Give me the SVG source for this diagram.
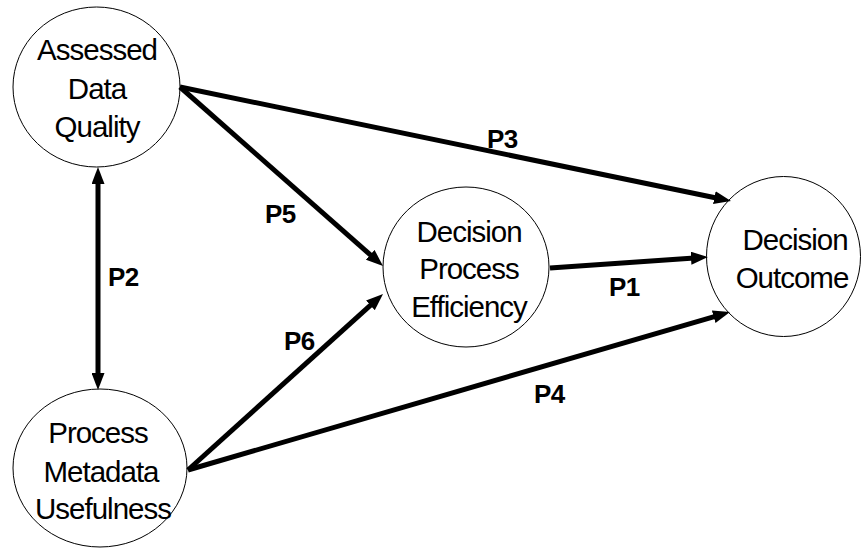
<svg xmlns="http://www.w3.org/2000/svg" width="862" height="548" viewBox="0 0 862 548">
<style>
.node{fill:#fff;stroke:#000;stroke-width:1}
.nt{font-family:"Liberation Sans",Arial,sans-serif;font-size:29.5px;fill:#000;text-anchor:middle;letter-spacing:-1px}
.edge{stroke:#000;stroke-width:5;fill:none}
.lbl{font-family:"Liberation Sans",Arial,sans-serif;font-size:26px;font-weight:bold;fill:#000;letter-spacing:-0.5px}
</style>
<defs>
<marker id="ah" markerUnits="userSpaceOnUse" markerWidth="17" markerHeight="13" refX="7" refY="6.5" orient="auto-start-reverse" viewBox="0 0 17 13">
<path d="M0,0 L17,6.5 L0,13 z" fill="#000"/>
</marker>
</defs>
<rect width="862" height="548" fill="#fff"/>
<g id="n-adq">
<ellipse class="node" cx="96.5" cy="87" rx="83.5" ry="80"/>
<text class="nt" x="97" y="60">Assessed</text>
<text class="nt" x="97" y="99">Data</text>
<text class="nt" x="97" y="137">Quality</text>
</g>
<g id="n-pmu">
<ellipse class="node" cx="100" cy="468" rx="87" ry="79"/>
<text class="nt" x="98" y="443">Process</text>
<text class="nt" x="101" y="482">Metadata</text>
<text class="nt" x="103" y="519">Usefulness</text>
</g>
<g id="n-dpe">
<ellipse class="node" cx="466" cy="267" rx="83" ry="80"/>
<text class="nt" x="469" y="242">Decision</text>
<text class="nt" x="469" y="279">Process</text>
<text class="nt" x="469" y="317">Efficiency</text>
</g>
<g id="n-do">
<ellipse class="node" cx="783.5" cy="256.5" rx="77" ry="80"/>
<text class="nt" x="795" y="250">Decision</text>
<text class="nt" x="792" y="288">Outcome</text>
</g>
<g id="connectors">
<line class="edge" x1="180" y1="87" x2="721.2" y2="199" marker-end="url(#ah)"/>
<line class="edge" x1="180" y1="87" x2="375.5" y2="259.4" marker-end="url(#ah)"/>
<line class="edge" x1="550" y1="268" x2="698" y2="257.7" marker-end="url(#ah)"/>
<line class="edge" x1="188" y1="470" x2="375.6" y2="300.7" marker-end="url(#ah)"/>
<line class="edge" x1="188" y1="470" x2="720.4" y2="314.8" marker-end="url(#ah)"/>
<line class="edge" x1="98" y1="177" x2="98" y2="380" marker-start="url(#ah)" marker-end="url(#ah)"/>
<text class="lbl" x="609" y="296">P1</text>
<text class="lbl" x="108" y="286">P2</text>
<text class="lbl" x="487" y="148">P3</text>
<text class="lbl" x="534" y="403">P4</text>
<text class="lbl" x="265" y="223">P5</text>
<text class="lbl" x="284" y="350">P6</text>
</g>
</svg>
